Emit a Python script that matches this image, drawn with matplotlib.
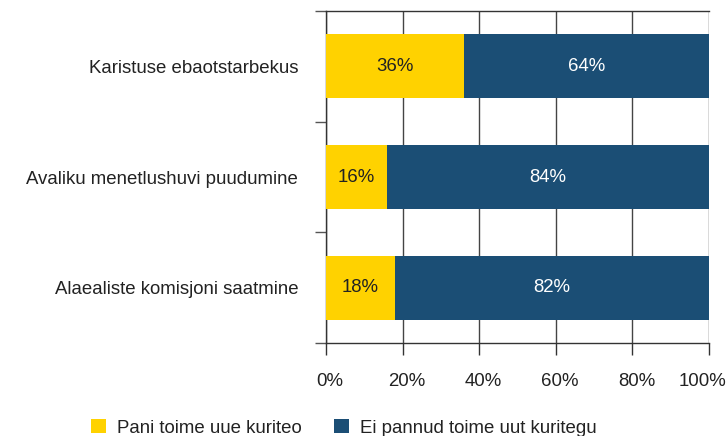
import matplotlib
matplotlib.use("Agg")
import matplotlib.pyplot as plt
from matplotlib.patches import Patch
from matplotlib.transforms import ScaledTranslation
import numpy as np

plt.rcParams['font.family'] = ['Liberation Sans', 'DejaVu Sans']

categories = ["Karistuse ebaotstarbekus", "Avaliku menetlushuvi puudumine", "Alaealiste komisjoni saatmine"]
committed = [36, 16, 18]
not_committed = [64, 84, 82]
series_names = ["Pani toime uue kuriteo", "Ei pannud toime uut kuritegu"]
xticks = [0, 20, 40, 60, 80, 100]
xticklabels = ["0%", "20%", "40%", "60%", "80%", "100%"]

yellow = "#FFD200"
blue = "#1B4E75"
txt = "#222222"
fs = 13.4

fig = plt.figure(figsize=(7.28, 4.36), dpi=100)
ax = fig.add_axes([326/728, 1-343/436, (709-326)/728, (343-11)/436])

y = np.arange(len(categories))
h = 0.58
ax.barh(y, committed, height=h, color=yellow, zorder=3)
ax.barh(y, not_committed, left=committed, height=h, color=blue, zorder=3)

for yi, c, n in zip(y, committed, not_committed):
    ax.text(c/2, yi, f"{c}%", ha="center", va="center", color=txt, fontsize=fs, zorder=4)
    ax.text(c + n/2, yi, f"{n}%", ha="center", va="center", color="white", fontsize=fs, zorder=4)

ax.set_xlim(0, 100)
ax.set_ylim(len(categories)-0.5, -0.5)
ax.set_xticks(xticks)
ax.set_xticklabels(xticklabels, fontsize=fs, color=txt)
ax.set_yticks(y)
ax.set_yticklabels(categories, fontsize=fs, color=txt)
ax.set_yticks(np.arange(-0.5, len(categories)), minor=True)

ax.tick_params(axis="y", which="major", length=0, pad=20)
ax.tick_params(axis="y", which="minor", length=8, width=1, color="#555555", direction="out")
ax.tick_params(axis="x", which="major", length=8.6, width=1, color="#333333", direction="out", pad=13)

# small horizontal nudges of the x tick labels (last one kept inside the canvas)
labels = ax.get_xticklabels()
for i, lbl in enumerate(labels):
    if i == len(labels) - 1:
        lbl.set_ha("right")
        lbl.set_transform(lbl.get_transform() + ScaledTranslation(17/100, 0, fig.dpi_scale_trans))
    else:
        lbl.set_transform(lbl.get_transform() + ScaledTranslation(4/100, 0, fig.dpi_scale_trans))

ax.grid(axis="x", color="#444444", linewidth=1, zorder=1)
for s in ["top", "left", "bottom"]:
    ax.spines[s].set_color("#333333")
    ax.spines[s].set_linewidth(1)
ax.spines["right"].set_visible(False)

handles = [Patch(facecolor=yellow, edgecolor="none"), Patch(facecolor=blue, edgecolor="none")]
fig.legend(handles, series_names, loc="center left", bbox_to_anchor=(91/728, 1-428/436),
           ncol=2, frameon=False, fontsize=fs, handlelength=0.8, handleheight=0.8,
           handletextpad=0.59, columnspacing=1.72, labelcolor=txt, borderaxespad=0,
           borderpad=0)

fig.savefig("out.png", dpi=100, facecolor="white")
